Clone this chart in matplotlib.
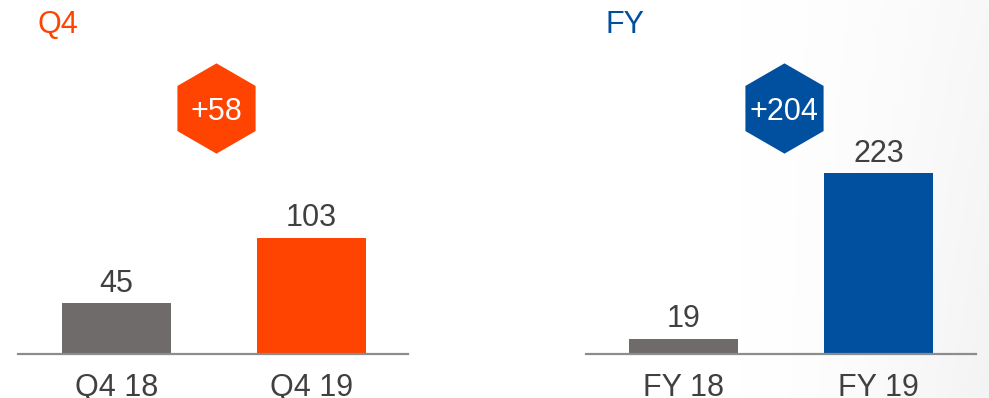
import numpy as np
import matplotlib
matplotlib.use("Agg")
import matplotlib.pyplot as plt

plt.rcParams['font.family'] = ['Liberation Sans', 'DejaVu Sans']

# data
q4_labels = ["Q4 18", "Q4 19"]
q4_values = [45, 103]
q4_delta = "+58"
fy_labels = ["FY 18", "FY 19"]
fy_values = [19, 223]
fy_delta = "+204"

gray = "#6f6b6b"
orange = "#ff4300"
blue = "#00509f"
txt = "#404040"

fig = plt.figure(figsize=(9.89, 3.98), dpi=100)

# faint gradient background on the right side
bg = fig.add_axes([0, 0, 1, 1], zorder=-10)
xx = np.linspace(0, 1, 300)
yy = np.linspace(0, 1, 120)
X, Y = np.meshgrid(xx, yy)
shade = np.clip((X - 0.75) / 0.25, 0, 1) ** 1.5 * (0.6 + 0.4 * Y) * 0.045
img = np.ones((120, 300, 3)) * (1 - shade[..., None])
bg.imshow(img, extent=[0, 1, 0, 1], aspect='auto', origin='upper')
bg.axis('off')


def panel(rect, labels, values, colors, title, tcolor, delta, ymax, xlim):
    ax = fig.add_axes(rect)
    ax.patch.set_alpha(0)
    x = np.arange(len(values))
    ax.bar(x, values, width=0.56, color=colors, zorder=2)
    for xi, v in zip(x, values):
        ax.annotate(str(v), (xi, v), xytext=(0, 8), textcoords='offset points',
                    ha='center', va='baseline', fontsize=22, color=txt)
    ax.set_xlim(*xlim)
    ax.set_ylim(0, ymax)
    ax.set_xticks(x)
    ax.set_xticklabels(labels, fontsize=22, color=txt)
    ax.tick_params(axis='x', length=0, pad=13.5)
    ax.set_yticks([])
    for s in ['top', 'left', 'right']:
        ax.spines[s].set_visible(False)
    ax.spines['bottom'].set_color('#8c8c8c')
    ax.spines['bottom'].set_linewidth(1.6)
    ax.text(0.051, 1 - 10 / 354, title, transform=ax.transAxes, ha='left', va='top',
            fontsize=22, color=tcolor)
    # hexagon badge
    hx, hy = 0.508, 0.695
    ax.plot([hx], [hy], marker='h', markersize=65, markeredgewidth=0,
            color=tcolor, transform=ax.transAxes, clip_on=False, zorder=3)
    ax.annotate(delta, (hx, hy), xycoords='axes fraction', xytext=(0, -8.4),
                textcoords='offset points', ha='center', va='baseline',
                fontsize=22, color='white', zorder=4)
    return ax


panel([18 / 989, 44 / 398, 390 / 989, 354 / 398], q4_labels, q4_values,
      [gray, orange], "Q4", orange, q4_delta, 313, (-0.505, 1.495))
panel([586 / 989, 44 / 398, 390 / 989, 354 / 398], fy_labels, fy_values,
      [gray, blue], "FY", blue, fy_delta, 436, (-0.5, 1.5))

fig.savefig("out.png", dpi=100)
